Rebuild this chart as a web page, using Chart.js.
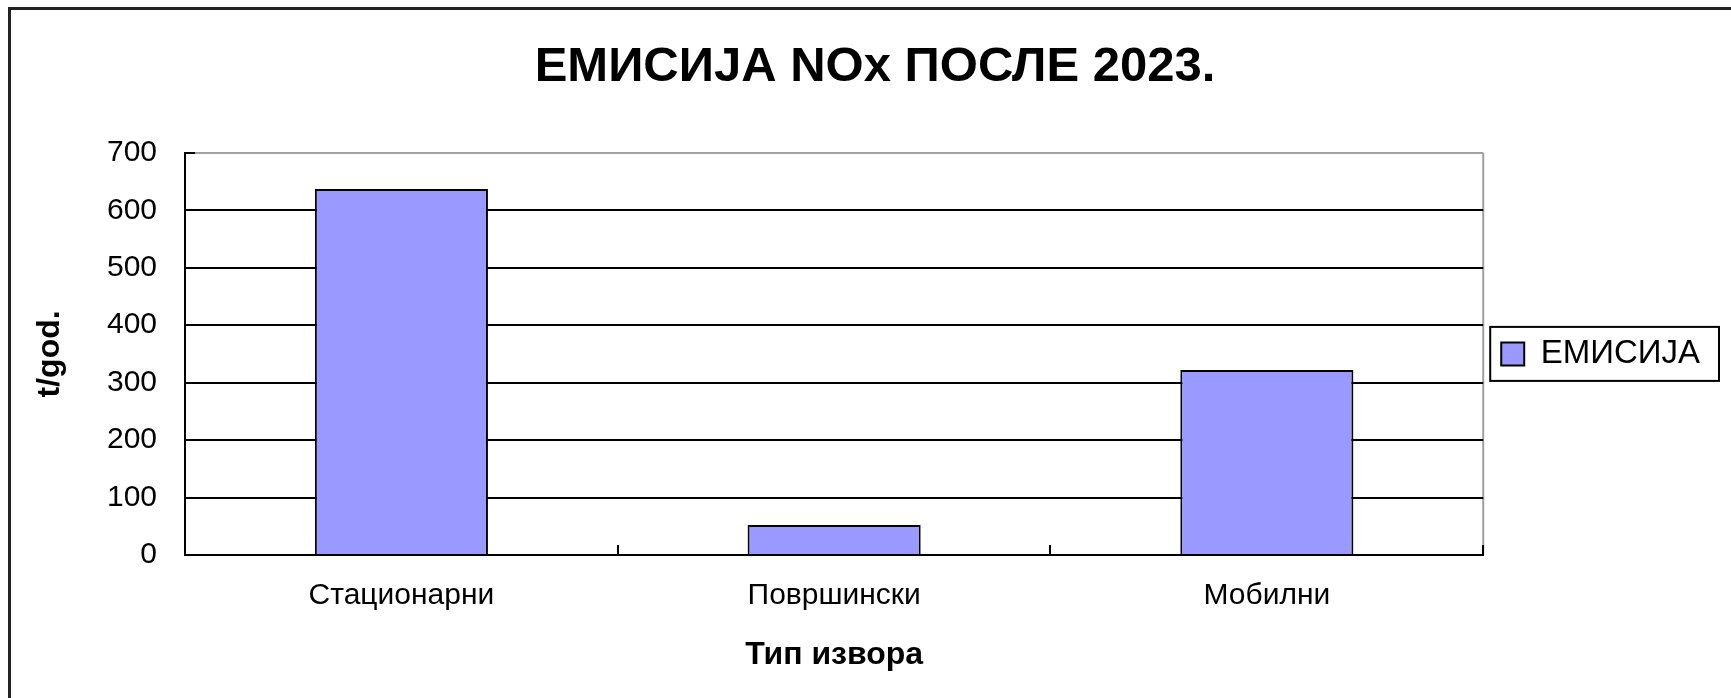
<!DOCTYPE html>
<html>
<head>
<meta charset="utf-8">
<script src="https://cdn.jsdelivr.net/npm/chart.js@4"></script>
<style>
  body { margin: 0; background: #fff; }
  #wrap { position: relative; width: 1731px; height: 698px; }
  #frame { position: absolute; left: 8px; top: 7px; right: 0; bottom: 0;
           border-left: 3px solid #222; border-top: 3px solid #222; }
  #nox { position: absolute; left: 0; top: 0; }
</style>
</head>
<body>
<div id="wrap">
  <div id="frame"></div>
  <canvas id="nox" width="1731" height="698"></canvas>
</div>
<script>
// тип извора и емисија NOx (t/god.)
const izvori = ['Стационарни', 'Површински', 'Мобилни'];
const emisija = [637, 52, 322];
const yTicks = [0, 100, 200, 300, 400, 500, 600, 700];

Chart.defaults.font.family = "'Liberation Sans', Arial, sans-serif";
Chart.defaults.color = '#000';

// сива десна ивица поља и оквир око легенде
const okvir = {
  id: 'okvir',
  beforeDraw(chart) {
    const ctx = chart.ctx;
    const a = chart.chartArea;
    ctx.save();
    ctx.strokeStyle = '#a0a0a0';
    ctx.lineWidth = 2;
    ctx.beginPath();
    ctx.moveTo(a.right, a.top);
    ctx.lineTo(a.right, a.bottom);
    ctx.stroke();

    const hb = chart.legend.legendHitBoxes[0];
    if (hb) {
      const cy = hb.top + hb.height / 2;
      ctx.strokeStyle = '#000';
      ctx.strokeRect(hb.left - 11, cy - 27, hb.width + 30, 54);
    }
    ctx.restore();
  }
};

new Chart(document.getElementById('nox').getContext('2d'), {
  type: 'bar',
  data: {
    labels: izvori,
    datasets: [{
      label: 'ЕМИСИЈА',
      data: emisija,
      backgroundColor: '#9999ff',
      borderColor: '#000',
      borderWidth: 2,
      categoryPercentage: 1,
      barPercentage: 0.4
    }]
  },
  options: {
    responsive: false,
    animation: false,
    layout: { padding: { left: 40, right: 21, top: 0, bottom: 0 } },
    plugins: {
      title: {
        display: true,
        text: 'ЕМИСИЈА NOx ПОСЛЕ 2023.',
        font: { size: 49, weight: 'bold' },
        padding: { top: 38, bottom: 56 }
      },
      legend: {
        position: 'right',
        fullSize: false,
        labels: {
          boxWidth: 23,
          boxHeight: 23,
          padding: 18,
          font: { size: 33 }
        }
      },
      tooltip: { enabled: false }
    },
    scales: {
      x: {
        grid: {
          offset: true,
          drawOnChartArea: false,
          color: '#000',
          lineWidth: 2,
          tickLength: -10
        },
        border: { color: '#000', width: 2 },
        ticks: { font: { size: 30, lineHeight: 1.4 }, padding: 30 },
        title: {
          display: true,
          text: 'Тип извора',
          font: { size: 32, weight: 'bold', lineHeight: 0.5 },
          padding: { top: 0, bottom: 35 }
        }
      },
      y: {
        min: 0,
        max: 700,
        afterBuildTicks: s => { s.ticks = yTicks.map(v => ({ value: v })); },
        grid: {
          color: c => (c.tick && c.tick.value === 700 ? '#a0a0a0' : '#000'),
          tickColor: '#000',
          lineWidth: 2,
          tickLength: -10
        },
        border: { color: '#000', width: 2 },
        ticks: { font: { size: 30 }, padding: 38 },
        title: {
          display: true,
          text: 't/god.',
          font: { size: 32, weight: 'bold', lineHeight: 0.25 },
          padding: { top: 6, bottom: 15 }
        }
      }
    }
  },
  plugins: [okvir]
});
</script>
</body>
</html>
